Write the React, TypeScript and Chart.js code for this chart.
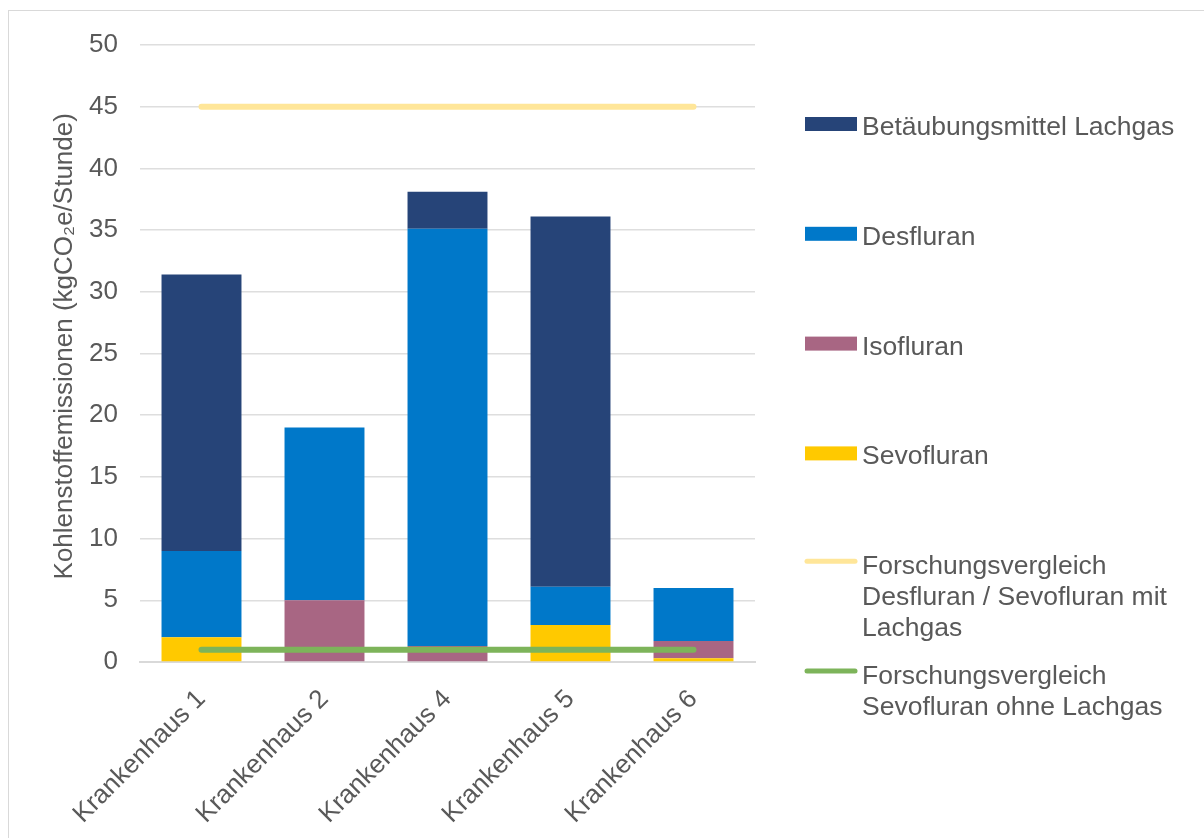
import React, { useEffect, useRef } from "react";
import { Chart, registerables } from "chart.js";

Chart.register(...registerables);

const categories = ["Krankenhaus 1", "Krankenhaus 2", "Krankenhaus 4", "Krankenhaus 5", "Krankenhaus 6"];
const sevofluran = [2.0, 0, 0, 3.0, 0.3];
const isofluran = [0, 5.0, 1.3, 0, 1.4];
const desfluran = [7.0, 14.0, 33.8, 3.1, 4.3];
const lachgas = [22.4, 0, 3.0, 30.0, 0];
const vergleichMitLachgas = [45, 45, 45, 45, 45];
const vergleichOhneLachgas = [1, 1, 1, 1, 1];
const yTicks = [0, 5, 10, 15, 20, 25, 30, 35, 40, 45, 50];

const FONT = "'Liberation Sans', Arial, sans-serif";
const TEXT = "#595959";

const COLORS = {
  lachgas: "#264478",
  desfluran: "#0078C9",
  isofluran: "#A86683",
  sevofluran: "#FFC900",
  mit: "#FFE699",
  ohne: "#7DB45A",
};

type LegendItem = { kind: "box" | "line"; color: string; lines: string[] };

const legendItems: LegendItem[] = [
  { kind: "box", color: COLORS.lachgas, lines: ["Betäubungsmittel Lachgas"] },
  { kind: "box", color: COLORS.desfluran, lines: ["Desfluran"] },
  { kind: "box", color: COLORS.isofluran, lines: ["Isofluran"] },
  { kind: "box", color: COLORS.sevofluran, lines: ["Sevofluran"] },
  { kind: "line", color: COLORS.mit, lines: ["Forschungsvergleich", "Desfluran / Sevofluran mit", "Lachgas"] },
  { kind: "line", color: COLORS.ohne, lines: ["Forschungsvergleich", "Sevofluran ohne Lachgas"] },
];

// Legend drawn to the right of the plot area, one entry every 110px
const sideLegend = {
  id: "sideLegend",
  afterDraw(chart: Chart) {
    const { ctx, chartArea } = chart;
    const x0 = chartArea.left + 665;
    const startY = chartArea.top + 79;
    ctx.save();
    ctx.font = `26.5px ${FONT}`;
    ctx.textBaseline = "alphabetic";
    legendItems.forEach((item, i) => {
      const cy = startY + i * 109.8;
      if (item.kind === "box") {
        ctx.fillStyle = item.color;
        ctx.fillRect(x0, cy - 7, 52, 14);
      } else {
        ctx.strokeStyle = item.color;
        ctx.lineWidth = 5;
        ctx.lineCap = "round";
        ctx.beginPath();
        ctx.moveTo(x0 + 2, cy - 2);
        ctx.lineTo(x0 + 50, cy - 2);
        ctx.stroke();
      }
      ctx.fillStyle = TEXT;
      item.lines.forEach((t, j) => {
        ctx.fillText(t, x0 + 57, cy + 11 + j * 31);
      });
    });
    ctx.restore();
  },
};

export default function App() {
  const ref = useRef<HTMLCanvasElement | null>(null);

  useEffect(() => {
    if (!ref.current) return;
    const chart = new Chart(ref.current, {
      type: "bar",
      data: {
        labels: categories,
        datasets: [
          { type: "line", label: "Forschungsvergleich Desfluran / Sevofluran mit Lachgas", data: vergleichMitLachgas, stack: "mit", borderColor: COLORS.mit, borderWidth: 6, borderCapStyle: "round", pointRadius: 0, order: 0 } as any,
          { type: "line", label: "Forschungsvergleich Sevofluran ohne Lachgas", data: vergleichOhneLachgas, stack: "ohne", borderColor: COLORS.ohne, borderWidth: 6, borderCapStyle: "round", pointRadius: 0, order: 0 } as any,
          { label: "Sevofluran", data: sevofluran, backgroundColor: COLORS.sevofluran, stack: "bars", order: 1 },
          { label: "Isofluran", data: isofluran, backgroundColor: COLORS.isofluran, stack: "bars", order: 1 },
          { label: "Desfluran", data: desfluran, backgroundColor: COLORS.desfluran, stack: "bars", order: 1 },
          { label: "Betäubungsmittel Lachgas", data: lachgas, backgroundColor: COLORS.lachgas, stack: "bars", order: 1 },
        ],
      },
      options: {
        animation: false,
        responsive: false,
        maintainAspectRatio: false,
        datasets: { bar: { categoryPercentage: 1, barPercentage: 0.65 } },
        layout: { padding: { left: 0, top: 34, right: 449, bottom: 0 } },
        plugins: { legend: { display: false }, tooltip: { enabled: false } },
        scales: {
          x: {
            stacked: true,
            grid: { display: false },
            border: { display: true, color: "#d9d9d9", width: 2 },
            ticks: {
              color: TEXT,
              font: { family: FONT, size: 26 },
              maxRotation: 45,
              minRotation: 45,
              padding: 14,
            },
            afterFit(scale: any) {
              scale.height = 176;
            },
          },
          y: {
            stacked: true,
            min: 0,
            max: 50,
            afterBuildTicks(scale: any) {
              scale.ticks = yTicks.map((v) => ({ value: v }));
            },
            grid: { color: "#dedede", lineWidth: 1.5, drawTicks: false },
            border: { display: false },
            ticks: {
              color: TEXT,
              font: { family: FONT, size: 26 },
              padding: 22,
            },
            title: {
              display: true,
              text: "  Kohlenstoffemissionen (kgCO₂e/Stunde)",
              color: TEXT,
              font: { family: FONT, size: 26 },
              padding: { top: 40, bottom: 0 },
            },
            afterFit(scale: any) {
              scale.width = 131;
              scale.paddingTop = 0;
              scale.paddingBottom = 0;
            },
          },
        },
      },
      plugins: [sideLegend],
    });
    return () => chart.destroy();
  }, []);

  return (
    <div
      style={{
        position: "absolute",
        left: 8,
        top: 10,
        width: 1196,
        height: 828,
        borderTop: "1px solid #d9d9d9",
        borderLeft: "1px solid #d9d9d9",
        overflow: "hidden",
        background: "#fff",
      }}
    >
      <canvas ref={ref} width={1195} height={827} style={{ display: "block" }} />
    </div>
  );
}
